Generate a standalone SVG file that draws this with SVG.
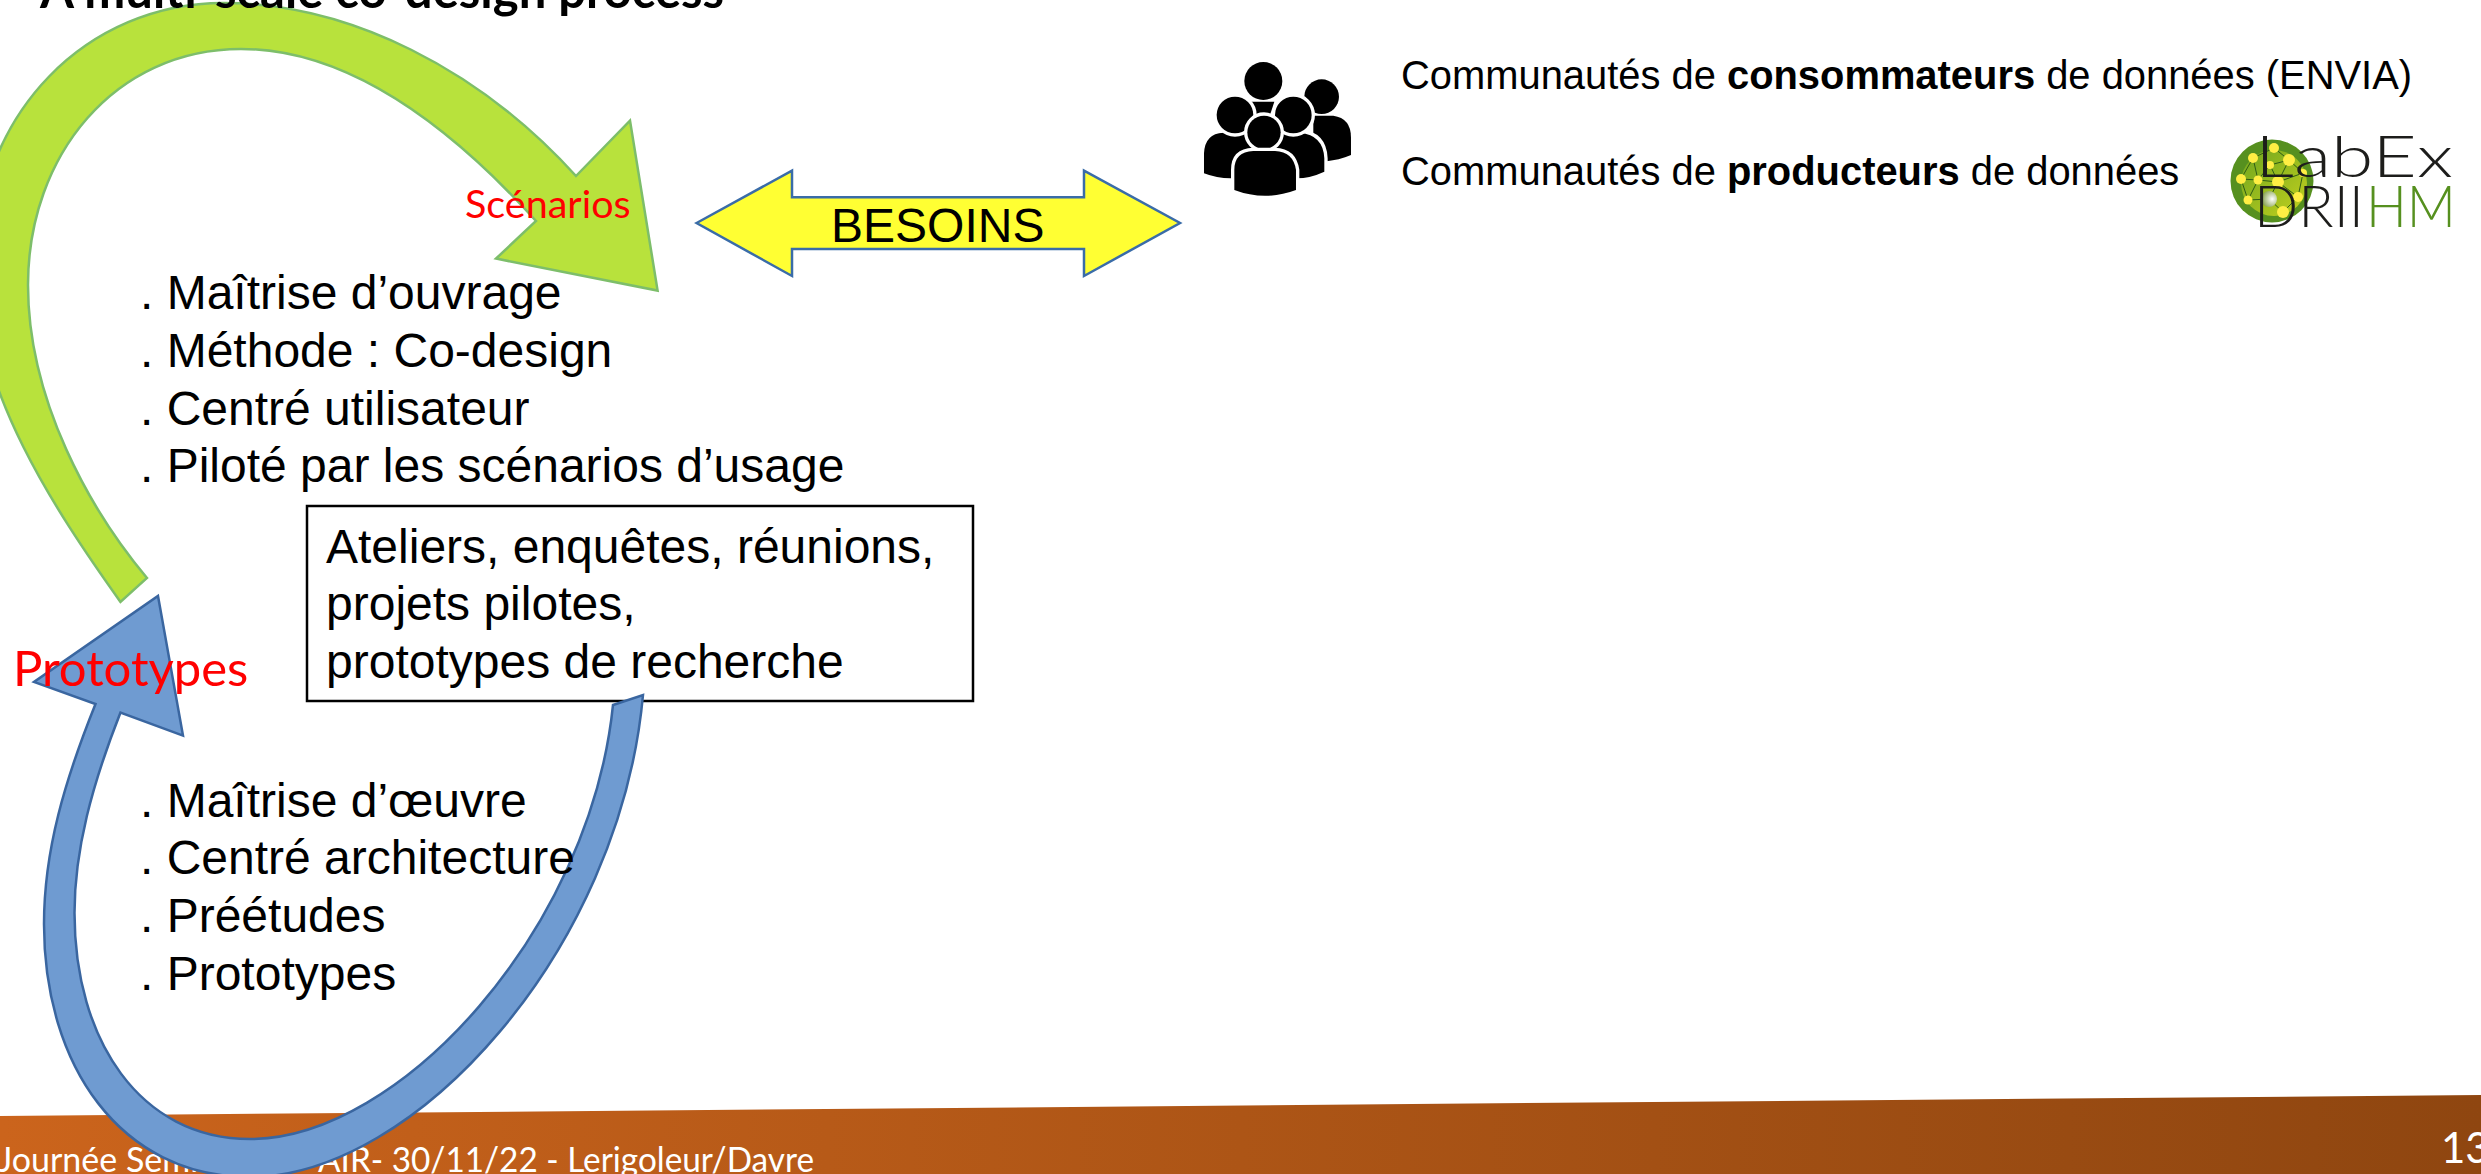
<svg xmlns="http://www.w3.org/2000/svg" width="2481" height="1174" viewBox="0 0 2481 1174">
<style>
.ar{font-family:"Liberation Sans",Arial,sans-serif;fill:#000}
.l{font-size:48px}
.r{font-size:39.9px}
.ca{font-family:Lato,"Open Sans",sans-serif}
.logo{font-family:Lato,"Open Sans",sans-serif;font-weight:300;font-size:58px}
.d{fill:#FFEE44}
.n{stroke:#2f5d16;stroke-width:1;fill:none}
.k{fill:#000}
.kw{fill:#000;stroke:#fff;stroke-width:20;paint-order:stroke}
</style>
<defs>
<linearGradient id="fg" x1="0" x2="1" y1="0" y2="0"><stop offset="0" stop-color="#CB641C"/><stop offset="1" stop-color="#8F4610"/></linearGradient>
<radialGradient id="ball" cx="0.7" cy="0.5" r="0.7"><stop offset="0" stop-color="#fff"/><stop offset="1" stop-color="#7d9a40"/></radialGradient>
<linearGradient id="lg" x1="0" y1="0" x2="1" y2="1"><stop offset="0" stop-color="#6FA51F"/><stop offset="1" stop-color="#C3D11E"/></linearGradient>
</defs>
<rect width="2481" height="1174" fill="#fff"/>
<g id="footer">
<path d="M0 1116L2481 1095V1174H0Z" fill="url(#fg)"/>
<text class="ca" x="-2" y="1172" font-size="34" fill="#fff">Journée Seminaire</text>
<text class="ca" x="318" y="1172" font-size="34" fill="#fff" textLength="496" lengthAdjust="spacingAndGlyphs">AIR- 30/11/22 - Lerigoleur/Davre</text>
<text class="ca" x="2441" y="1163" font-size="42" fill="#fff">13</text>
</g>
<g id="box">
<rect x="307" y="506" width="666" height="195" fill="#fff" stroke="#000" stroke-width="2.5"/>
<text class="ar l" x="326" y="563">Ateliers, enquêtes, réunions,</text>
<text class="ar l" x="326" y="620">projets pilotes,</text>
<text class="ar l" x="326" y="678">prototypes de recherche</text>
</g>
<g id="connectors">
<path id="arrow-green" d="M576 176L630 120.6L657.6 290.6L496 258.6L536 221C440 115 340 49 241 49C115 49 28 155 28 285C28 400 90 510 147 578L120.5 602C55 510 -25 390 -25 270C-25 110 90 3 223 3C350 3 480 70 576 176Z" fill="#B8E23C" stroke="#7DBE6A" stroke-width="2.5"/>
<path id="arrow-blue" d="M158 596L183 735.6L120.5 712.5C92 785 74.5 850 74.5 913C74.5 1040 140 1139 250 1139C400 1139 590 930 613 705L643 695C620 950 415 1177 250 1177C120 1177 44 1065 44 924C44 850 65 780 95.5 704L34 682Z" fill="#6F9BD1" stroke="#3A66A0" stroke-width="2.5"/>
<path id="arrow-besoins" d="M696.6 223L792 170.6V197.3H1084V170.6L1180 223L1084 276V249H792V276Z" fill="#FFFF33" stroke="#3A6CA8" stroke-width="2.5"/>
</g>
<text id="title" class="ca" x="40" y="8" font-size="49" font-weight="700" fill="#000">A multi-scale co-design process</text>
<g id="besoins"><text class="ar" x="831" y="242" font-size="48">BESOINS</text></g>
<g id="scenarios-label"><text class="ca" x="465" y="218" font-size="39.5" fill="#f00">Scénarios</text></g>
<g id="prototypes-label"><text class="ca" x="13" y="686" font-size="49" fill="#f00">Prototypes</text></g>
<g id="moa">
<text class="ar l" x="140" y="309">. Maîtrise d’ouvrage</text>
<text class="ar l" x="140" y="367">. Méthode : Co-design</text>
<text class="ar l" x="140" y="424.5">. Centré utilisateur</text>
<text class="ar l" x="140" y="482">. Piloté par les scénarios d’usage</text>
</g>
<g id="moe">
<text class="ar l" x="140" y="817">. Maîtrise d’œuvre</text>
<text class="ar l" x="140" y="874">. Centré architecture</text>
<text class="ar l" x="140" y="932">. Préétudes</text>
<text class="ar l" x="140" y="990">. Prototypes</text>
</g>
<g id="people" transform="translate(1190 50) scale(.3333)">
<circle class="k" cx="395" cy="140" r="52"/>
<path class="k" d="M370 197H430Q483 205 483 262V315Q450 330 400 335L370 300Z"/>
<circle class="k" cx="220" cy="93" r="57"/>
<path class="k" d="M183 155H253L240 195H195Z"/>
<path class="k" d="M42 370V310Q45 250 100 248H170L200 300V390L122 385Q80 385 42 370Z"/>
<path class="kw" d="M250 248H330Q400 255 403 325V365Q360 385 320 385L250 390Z"/>
<circle class="kw" cx="135" cy="195" r="55"/>
<circle class="kw" cx="310" cy="195" r="55"/>
<circle class="kw" cx="222" cy="247" r="50"/>
<path class="kw" d="M133 420V360Q133 305 190 303H255Q310 305 318 360V420Q225 455 133 420Z"/>
</g>
<g id="communities">
<text class="ar r" x="1401" y="89">Communautés de <tspan font-weight="700">consommateurs</tspan> de données (ENVIA)</text>
<text class="ar r" x="1401" y="185">Communautés de <tspan font-weight="700">producteurs</tspan> de données</text>
</g>
<g id="logo">
<circle cx="2272" cy="181" r="41.5" fill="#56901F"/>
<circle cx="2274" cy="183" r="33" fill="url(#lg)"/>
<path class="n" d="M2253 158L2274 148L2289 160L2303 173M2253 158L2241 179L2258 180L2270 165L2289 160L2278 182L2258 180M2241 179L2248 200L2269 199L2283 212L2298 197L2278 182L2303 173L2298 197M2253 158L2258 180L2248 200M2270 165L2278 182L2269 199"/>
<circle class="d" cx="2253" cy="158" r="5"/>
<circle class="d" cx="2274" cy="148" r="5"/>
<circle class="d" cx="2270" cy="165" r="4"/>
<circle class="d" cx="2289" cy="160" r="6"/>
<circle class="d" cx="2241" cy="179" r="5"/>
<circle class="d" cx="2258" cy="180" r="4.5"/>
<circle class="d" cx="2278" cy="182" r="6"/>
<circle class="d" cx="2248" cy="200" r="4.5"/>
<circle cx="2269" cy="199" r="8" fill="url(#ball)"/>
<circle class="d" cx="2283" cy="212" r="6"/>
<circle class="d" cx="2298" cy="197" r="5"/>
<circle class="d" cx="2303" cy="173" r="4"/>
<text class="logo" x="2255" y="177" fill="#1d1d1b" textLength="198" lengthAdjust="spacingAndGlyphs">LabEx</text>
<text class="logo" x="2254" y="227" fill="#1d1d1b" textLength="110" lengthAdjust="spacingAndGlyphs">DRII</text>
<text class="logo" x="2366" y="227" fill="#56901F" textLength="90" lengthAdjust="spacingAndGlyphs">HM</text>
</g>
</svg>
